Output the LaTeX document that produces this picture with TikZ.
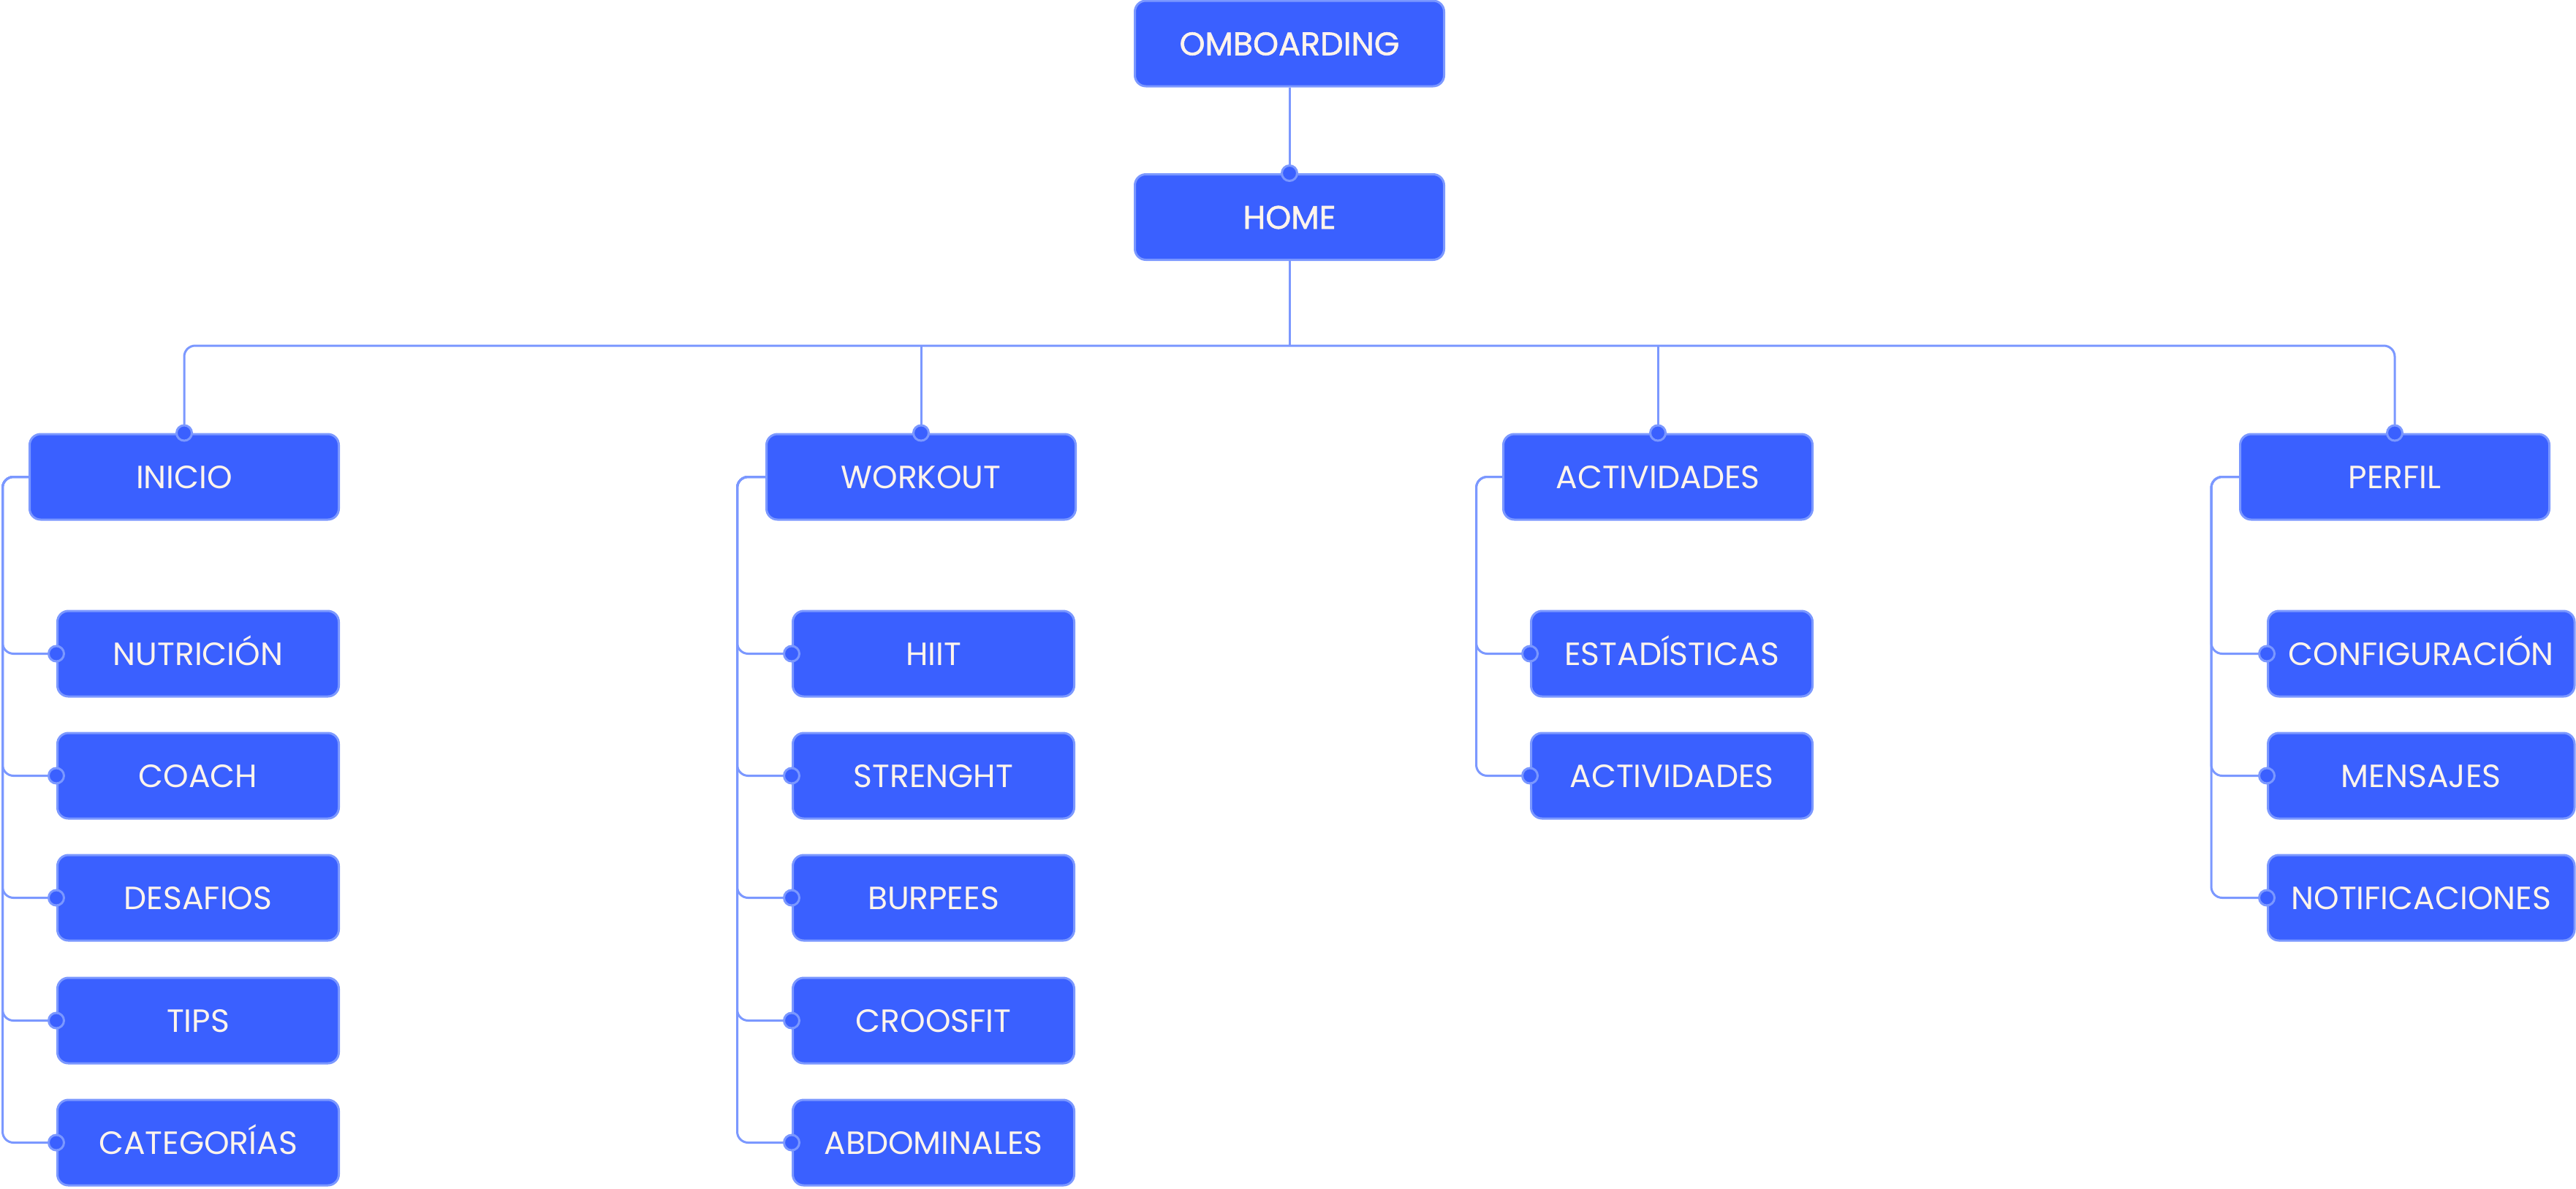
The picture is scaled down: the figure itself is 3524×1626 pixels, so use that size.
\documentclass[tikz,border=0pt]{standalone}
\usepackage{fontspec}
\setmainfont{Poppins}
\newfontfamily\medfont[FakeBold=1.3]{Poppins}
\definecolor{boxfill}{HTML}{3A60FF}
\definecolor{boxline}{HTML}{7B98FF}
\definecolor{boxtext}{HTML}{FFF4EC}
\tikzset{
  box/.style={draw=boxline, fill=boxfill, line width=3pt, rounded corners=15pt,
    minimum height=117pt, inner sep=0pt, text=boxtext,
    font=\fontsize{44}{50}\selectfont, text height=32pt, text depth=0pt},
  topbox/.style={box, minimum width=423pt, font=\medfont\fontsize{44.5}{50}\selectfont},
  parbox/.style={box, minimum width=423pt},
  kidbox/.style={box, minimum width=385pt},
  widekid/.style={box, minimum width=419.5pt},
  conn/.style={draw=boxline, line width=3pt, rounded corners=15pt},
  dot/.style={circle, draw=boxline, fill=boxfill, line width=3pt, minimum size=21pt, inner sep=0pt},
}
\begin{document}
\begin{tikzpicture}[x=1pt,y=-1pt]
\fill[white] (0,0) rectangle (3524,1626);
\useasboundingbox (0,0) rectangle (3524,1626);

% top
\node[topbox] (omb) at (1764,59.5) {OMBOARDING};
\node[topbox] (home) at (1764,297) {HOME};
\coordinate (br) at (1764,473);

% parents
\node[parbox] (inicio) at (252,652.5) {INICIO};
\node[parbox] (workout) at (1260,652.5) {WORKOUT};
\node[parbox] (activ) at (2268,652.5) {ACTIVIDADES};
\node[parbox] (perfil) at (3276,652.5) {PERFIL};

% trunks
\coordinate (ti) at (3.5,652.5);
\coordinate (tw) at (1008.5,652.5);
\coordinate (ta) at (2019.5,652.5);
\coordinate (tp) at (3025,652.5);

% children INICIO
\node[kidbox] (nut) at (271,894.5) {NUTRICIÓN};
\node[kidbox] (coach) at (271,1061.5) {COACH};
\node[kidbox] (desaf) at (271,1228.5) {DESAFIOS};
\node[kidbox] (tips) at (271,1396.5) {TIPS};
\node[kidbox] (categ) at (271,1563.5) {CATEGORÍAS};

% children WORKOUT
\node[kidbox] (hiit) at (1277,894.5) {HIIT};
\node[kidbox] (stren) at (1277,1061.5) {STRENGHT};
\node[kidbox] (burp) at (1277,1228.5) {BURPEES};
\node[kidbox] (croos) at (1277,1396.5) {CROOSFIT};
\node[kidbox] (abdo) at (1277,1563.5) {ABDOMINALES};

% children ACTIVIDADES
\node[kidbox] (estad) at (2287,894.5) {ESTADÍSTICAS};
\node[kidbox] (activ2) at (2287,1061.5) {ACTIVIDADES};

% children PERFIL
\node[widekid] (config) at (3312.25,894.5) {CONFIGURACIÓN};
\node[widekid] (mens) at (3312.25,1061.5) {MENSAJES};
\node[widekid] (notif) at (3312.25,1228.5) {NOTIFICACIONES};

% connectors top
\draw[conn] (omb.south) -- (home.north);
\draw[conn] (home.south) -- (br);
\draw[conn] (inicio.north) -- (inicio.north |- br) -- (perfil.north |- br) -- (perfil.north);
\draw[conn] (workout.north |- br) -- (workout.north);
\draw[conn] (activ.north |- br) -- (activ.north);

% connectors children
\foreach \k in {nut,coach,desaf,tips,categ}
  \draw[conn] (inicio.west) -- (ti) |- (\k.west);
\foreach \k in {hiit,stren,burp,croos,abdo}
  \draw[conn] (workout.west) -- (tw) |- (\k.west);
\foreach \k in {estad,activ2}
  \draw[conn] (activ.west) -- (ta) |- (\k.west);
\foreach \k in {config,mens,notif}
  \draw[conn] (perfil.west) -- (tp) |- (\k.west);

% dots
\foreach \n in {home,inicio,workout,activ,perfil}
  \node[dot] at (\n.north) {};
\foreach \n in {nut,coach,desaf,tips,categ,hiit,stren,burp,croos,abdo,estad,activ2,config,mens,notif}
  \node[dot] at (\n.west) {};
\end{tikzpicture}
\end{document}
